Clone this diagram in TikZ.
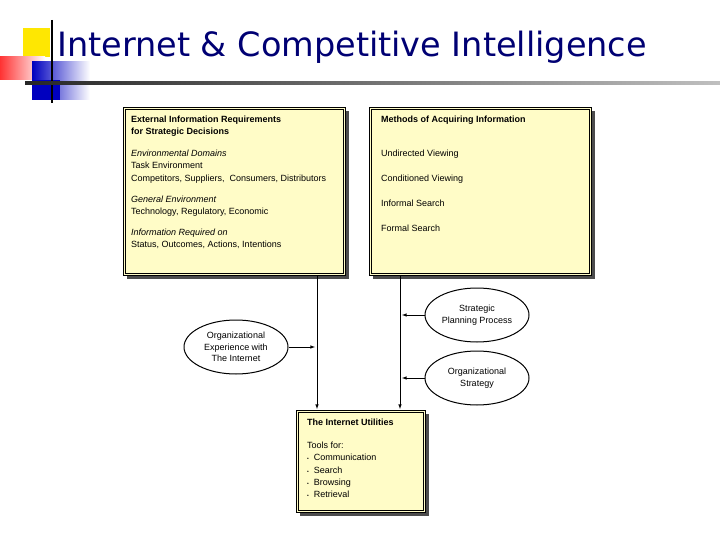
\documentclass[tikz,border=0pt]{standalone}
\usepackage{fontspec}
\usetikzlibrary{shapes.geometric}
\setmainfont{Liberation Sans}
\newfontfamily\titlefont{DejaVu Sans}
\begin{document}
\begin{tikzpicture}[x=1pt,y=-1pt,
 box/.style={draw=black,line width=1pt,fill=yellow!22,double=yellow!22,double distance=1.5pt},
 ell/.style={draw,ellipse,line width=1pt,fill=white,minimum width=104pt,minimum height=54pt,align=center,font=\fontsize{9}{11.5}\selectfont,inner sep=0pt},
 txt/.style={anchor=north west,align=left,font=\fontsize{9}{12.2}\selectfont,inner sep=0pt},
 arr/.style={-latex,line width=0.6pt}]
\useasboundingbox (0,0) rectangle (720,540);
% decoration
\fill[yellow!90!orange] (23,28) rectangle (50,57);
\shade[left color=red!80,right color=white] (0,57) rectangle (45,80);
\shade[left color=blue!75!black,right color=white] (32,62) rectangle (90,100);
\fill[blue!75!black] (32,80) rectangle (60,100);
\draw[line width=2pt] (52,20) -- (52,103);
\shade[left color=black!85,right color=black!25] (25,82) rectangle (720,85);
\node[anchor=west,font=\titlefont\fontsize{33.5}{36}\selectfont,text=blue!45!black,inner sep=0pt] (title) at (57,47) {Internet \& Competitive Intelligence};
% shadows
\fill[black!70] (127,111) rectangle (349,279);
\fill[black!70] (373,111) rectangle (595,279);
\fill[black!70] (300,414) rectangle (429,516);
% boxes
\node[box,minimum width=220pt,minimum height=166pt,anchor=north west] (ext) at (124,108) {};
\node[box,minimum width=220pt,minimum height=166pt,anchor=north west] (meth) at (370,108) {};
\node[box,minimum width=127pt,minimum height=100pt,anchor=north west] (util) at (297,411) {};
\node[txt] (extt) at (131,116) {\textbf{External Information Requirements}\\\textbf{for Strategic Decisions}};
\node[txt] (extb) at (131,150) {\textit{Environmental Domains}\\Task Environment\\Competitors, Suppliers,\ \ Consumers, Distributors\\[9pt]\textit{General Environment}\\Technology, Regulatory, Economic\\[9pt]\textit{Information Required on}\\Status, Outcomes, Actions, Intentions};
\node[txt] (metht) at (381,116) {\textbf{Methods of Acquiring Information}};
\node[txt] (methb) at (381,150) {Undirected Viewing\\[12.6pt]Conditioned Viewing\\[12.6pt]Informal Search\\[12.6pt]Formal Search};
\node[txt] (utilt) at (307,419) {\textbf{The Internet Utilities}};
\node[txt] (utilb) at (307,442) {Tools for:\\{\tiny\textbullet}\ \ Communication\\{\tiny\textbullet}\ \ Search\\{\tiny\textbullet}\ \ Browsing\\{\tiny\textbullet}\ \ Retrieval};
% ellipses
\node[ell] (oe) at (236,347) {Organizational\\Experience with\\The Internet};
\node[ell] (spp) at (477,315) {Strategic\\Planning Process};
\node[ell] (os) at (477,378) {Organizational\\Strategy};
% connectors
\coordinate (a1) at (317,275); \coordinate (a2) at (317,409);
\coordinate (b1) at (400,275); \coordinate (b2) at (400,409);
\draw[arr] (a1) -- (a2);
\draw[arr] (b1) -- (b2);
\coordinate (c1) at (315,347); \coordinate (d1) at (402,315); \coordinate (e1) at (402,378);
\draw[arr] (oe.east) -- (c1);
\draw[arr] (spp.west) -- (d1);
\draw[arr] (os.west) -- (e1);
\end{tikzpicture}
\end{document}
